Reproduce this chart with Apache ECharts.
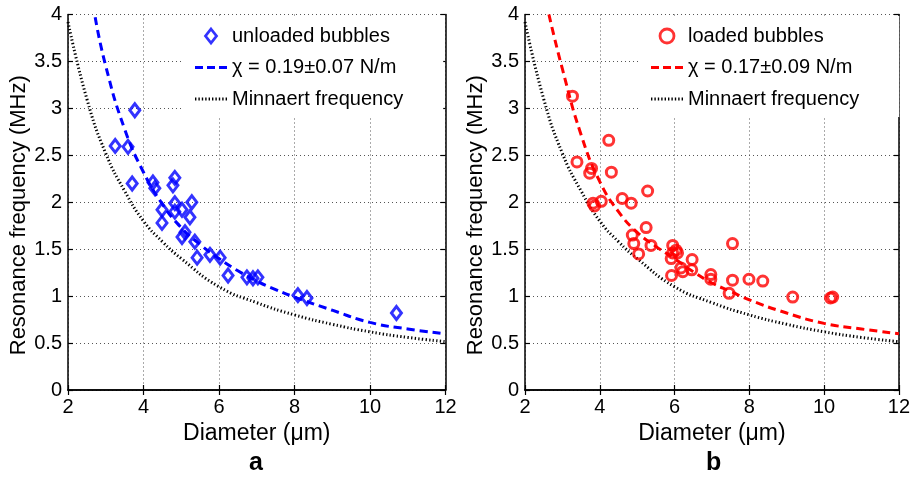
<!DOCTYPE html>
<html>
<head>
<meta charset="utf-8">
<script src="https://cdn.jsdelivr.net/npm/echarts@6/dist/echarts.min.js"></script>
<style>html,body{margin:0;padding:0;background:#fff;}#c{width:913px;height:480px;}</style>
</head>
<body>
<div id="c"></div>
<script>
// ---- data ----
const xTicks = [2, 4, 6, 8, 10, 12];
const yTicks = [0, 0.5, 1, 1.5, 2, 2.5, 3, 3.5, 4];

const unloadedD = [3.77, 3.25, 3.59, 3.70, 4.25, 4.30, 4.83, 4.78, 4.49, 4.83, 5.28, 4.83, 5.02, 5.23, 4.49, 5.02, 5.10, 5.36, 5.42, 5.76, 6.03, 6.24, 6.74, 6.90, 7.03, 8.09, 8.33, 10.70];
const unloadedF = [2.98, 2.60, 2.59, 2.20, 2.21, 2.15, 2.26, 2.18, 1.92, 1.99, 2.00, 1.90, 1.92, 1.84, 1.78, 1.63, 1.68, 1.58, 1.41, 1.44, 1.41, 1.22, 1.20, 1.19, 1.20, 1.01, 0.98, 0.82];

const loadedD = [3.27, 4.24, 3.39, 3.78, 3.73, 4.31, 5.28, 3.82, 3.86, 4.04, 4.60, 4.84, 5.24, 4.87, 4.91, 5.37, 5.04, 5.95, 6.04, 6.08, 5.95, 5.91, 6.47, 6.17, 6.22, 6.46, 5.92, 7.55, 6.97, 6.97, 7.55, 7.46, 7.99, 8.36, 9.16, 10.17, 10.23];
const loadedF = [3.13, 2.66, 2.43, 2.36, 2.31, 2.32, 2.12, 1.99, 1.96, 2.01, 2.04, 1.99, 1.73, 1.65, 1.56, 1.54, 1.45, 1.54, 1.49, 1.46, 1.46, 1.40, 1.39, 1.30, 1.26, 1.28, 1.22, 1.56, 1.23, 1.18, 1.17, 1.03, 1.18, 1.16, 0.99, 0.98, 0.99];

const fitUnloadedD = [2.72, 3.0, 3.5, 4.0, 4.5, 5.0, 5.5, 6.0, 6.5, 7.0, 7.5, 8.0, 9.0, 10.0, 11.0, 12.0];
const fitUnloadedF = [3.97, 3.45, 2.78, 2.32, 1.98, 1.73, 1.55, 1.40, 1.27, 1.16, 1.07, 0.99, 0.85, 0.72, 0.65, 0.60];

const fitLoadedD = [2.64, 3.0, 3.5, 4.0, 4.5, 5.0, 5.5, 6.0, 6.5, 7.0, 7.5, 8.0, 9.0, 10.0, 11.0, 12.0];
const fitLoadedF = [4.00, 3.42, 2.72, 2.22, 1.90, 1.68, 1.53, 1.40, 1.26, 1.14, 1.05, 0.96, 0.82, 0.71, 0.65, 0.60];

const minnaertD = [2.0, 2.5, 3.0, 3.5, 4.0, 4.5, 5.0, 6.0, 7.0, 8.0, 9.0, 10.0, 11.0, 12.0];
const minnaertF = [3.92, 3.10, 2.52, 2.12, 1.80, 1.58, 1.40, 1.10, 0.93, 0.80, 0.70, 0.62, 0.56, 0.515];

const panelLabels = ['a', 'b'];
const xTitle = 'Diameter (\u03bcm)';
const yTitle = 'Resonance frequency (MHz)';
const nameUnloaded = 'unloaded bubbles';
const nameLoaded = 'loaded bubbles';
const nameFitU = '\u03c7 = 0.19\u00b10.07 N/m';
const nameFitL = '\u03c7 = 0.17\u00b10.09 N/m';
const nameMin = 'Minnaert frequency';

// ---- build ----
const zip = (a, b) => a.map((v, i) => [v, b[i]]);
const font = "'Liberation Sans', Arial, sans-serif";

// legend icon shapes (style only)
const dashIcon = 'path://M0,0h8v3h-8zM12,0h8v3h-8zM24,0h8v3h-8z';
let dotPath = '';
for (let x = 0; x < 31; x += 3.4) dotPath += 'M' + x.toFixed(1) + ',0h1.4v3h-1.4z';
const dotIcon = 'path://' + dotPath;
const diamondIcon = 'path://M5.5,0L11,7L5.5,14L0,7Z';
const circleIcon = 'path://M6,0A6,6 0 1,1 5.99,0Z';

const grids = [
  { left: 68, top: 14.5, width: 377.5, height: 375.5 },
  { left: 525, top: 14.5, width: 375.5, height: 375.5 }
];

function bottomX(gi) {
  return {
    type: 'value', gridIndex: gi, position: 'bottom', min: xTicks[0], max: xTicks[xTicks.length - 1], interval: 2,
    axisLine: { lineStyle: { color: '#000', width: 1.5 } },
    axisTick: { inside: true, length: 5, lineStyle: { color: '#000', width: 1.2 } },
    axisLabel: { color: '#000', fontSize: 20, fontFamily: font, margin: 7 },
    splitLine: { show: true, lineStyle: { color: '#555', type: [1, 3], width: 1 } },
    name: xTitle, nameLocation: 'middle', nameGap: 30,
    nameTextStyle: { color: '#000', fontSize: 23, fontFamily: font }
  };
}
function topX(gi) {
  return {
    type: 'value', gridIndex: gi, position: 'top', min: xTicks[0], max: xTicks[xTicks.length - 1], interval: 2,
    axisLine: { lineStyle: { color: '#000', width: 1.5 } },
    axisTick: { inside: true, length: 5, lineStyle: { color: '#000', width: 1.2 } },
    axisLabel: { show: false }, splitLine: { show: false }
  };
}
function leftY(gi) {
  return {
    type: 'value', gridIndex: gi, position: 'left', min: yTicks[0], max: yTicks[yTicks.length - 1], interval: 0.5,
    axisLine: { show: true, lineStyle: { color: '#000', width: 1.5 } },
    axisTick: { show: true, inside: true, length: 5, lineStyle: { color: '#000', width: 1.2 } },
    axisLabel: { color: '#000', fontSize: 20, fontFamily: font, margin: 6 },
    splitLine: { show: true, lineStyle: { color: '#555', type: [1, 3], width: 1 } },
    name: yTitle, nameLocation: 'middle', nameGap: 37, nameRotate: 90,
    nameTextStyle: { color: '#000', fontSize: 22, fontFamily: font, padding: [0, 26, 0, 0] }
  };
}
function rightY(gi) {
  return {
    type: 'value', gridIndex: gi, position: 'right', min: yTicks[0], max: yTicks[yTicks.length - 1], interval: 0.5,
    axisLine: { show: true, lineStyle: { color: '#000', width: 1.5 } },
    axisTick: { show: true, inside: true, length: 5, lineStyle: { color: '#000', width: 1.2 } },
    axisLabel: { show: false }, splitLine: { show: false }
  };
}

const dashStyle = (c) => ({ color: c, width: 3, type: [8, 5] });
const dotStyle = { color: '#000', width: 3, type: [1.3, 2.3] };

function legendFor(left, names, colors) {
  return {
    orient: 'vertical', left: left, top: 16,
    data: [
      { name: names[0], icon: colors.icon, itemStyle: { color: 'transparent', borderColor: colors.c, borderWidth: 2.8 } },
      { name: names[1], icon: dashIcon, itemStyle: { color: colors.c, borderWidth: 0 } },
      { name: names[2], icon: dotIcon, itemStyle: { color: '#000', borderWidth: 0 } }
    ],
    itemWidth: 32, itemHeight: 14, itemGap: 11.5, symbolKeepAspect: true,
    padding: [10, 40, 8, 11], backgroundColor: '#fff',
    textStyle: { color: '#000', fontSize: 20, fontFamily: font },
    selectedMode: false
  };
}

const option = {
  animation: false,
  backgroundColor: '#fff',
  grid: grids,
  xAxis: [bottomX(0), topX(0), bottomX(1), topX(1)],
  yAxis: [leftY(0), rightY(0), leftY(1), rightY(1)],
  legend: [
    legendFor(184, [nameUnloaded, nameFitU, nameMin], { c: '#0000ff', icon: diamondIcon }),
    legendFor(640, [nameLoaded, nameFitL, nameMin], { c: '#ff0000', icon: circleIcon })
  ],
  graphic: panelLabels.map((t, i) => ({
    type: 'text', left: i === 0 ? 249 : 706, top: 451,
    style: { text: t, fontSize: 25, fontWeight: 'bold', fontFamily: font, fill: '#000' }
  })),
  series: [
    { name: nameMin, type: 'line', xAxisIndex: 0, yAxisIndex: 0, data: zip(minnaertD, minnaertF), smooth: true, symbol: 'none', lineStyle: dotStyle, itemStyle: { color: '#000' }, z: 3 },
    { name: nameFitU, type: 'line', xAxisIndex: 0, yAxisIndex: 0, data: zip(fitUnloadedD, fitUnloadedF), smooth: true, symbol: 'none', lineStyle: dashStyle('#0000ff'), itemStyle: { color: '#0000ff' }, z: 3 },
    { name: nameUnloaded, type: 'scatter', xAxisIndex: 0, yAxisIndex: 0, data: zip(unloadedD, unloadedF), symbol: 'diamond', symbolSize: [10, 13], itemStyle: { color: 'transparent', borderColor: '#0000ff', borderWidth: 3 }, z: 4 },
    { name: nameMin, type: 'line', xAxisIndex: 2, yAxisIndex: 2, data: zip(minnaertD, minnaertF), smooth: true, symbol: 'none', lineStyle: dotStyle, itemStyle: { color: '#000' }, z: 3 },
    { name: nameFitL, type: 'line', xAxisIndex: 2, yAxisIndex: 2, data: zip(fitLoadedD, fitLoadedF), smooth: true, symbol: 'none', lineStyle: dashStyle('#ff0000'), itemStyle: { color: '#ff0000' }, z: 3 },
    { name: nameLoaded, type: 'scatter', xAxisIndex: 2, yAxisIndex: 2, data: zip(loadedD, loadedF), symbol: 'circle', symbolSize: 10, itemStyle: { color: 'transparent', borderColor: '#ff0000', borderWidth: 3 }, z: 4 }
  ]
};

const chart = echarts.init(document.getElementById('c'), null, { renderer: 'canvas' });
chart.setOption(option);
</script>
</body>
</html>
